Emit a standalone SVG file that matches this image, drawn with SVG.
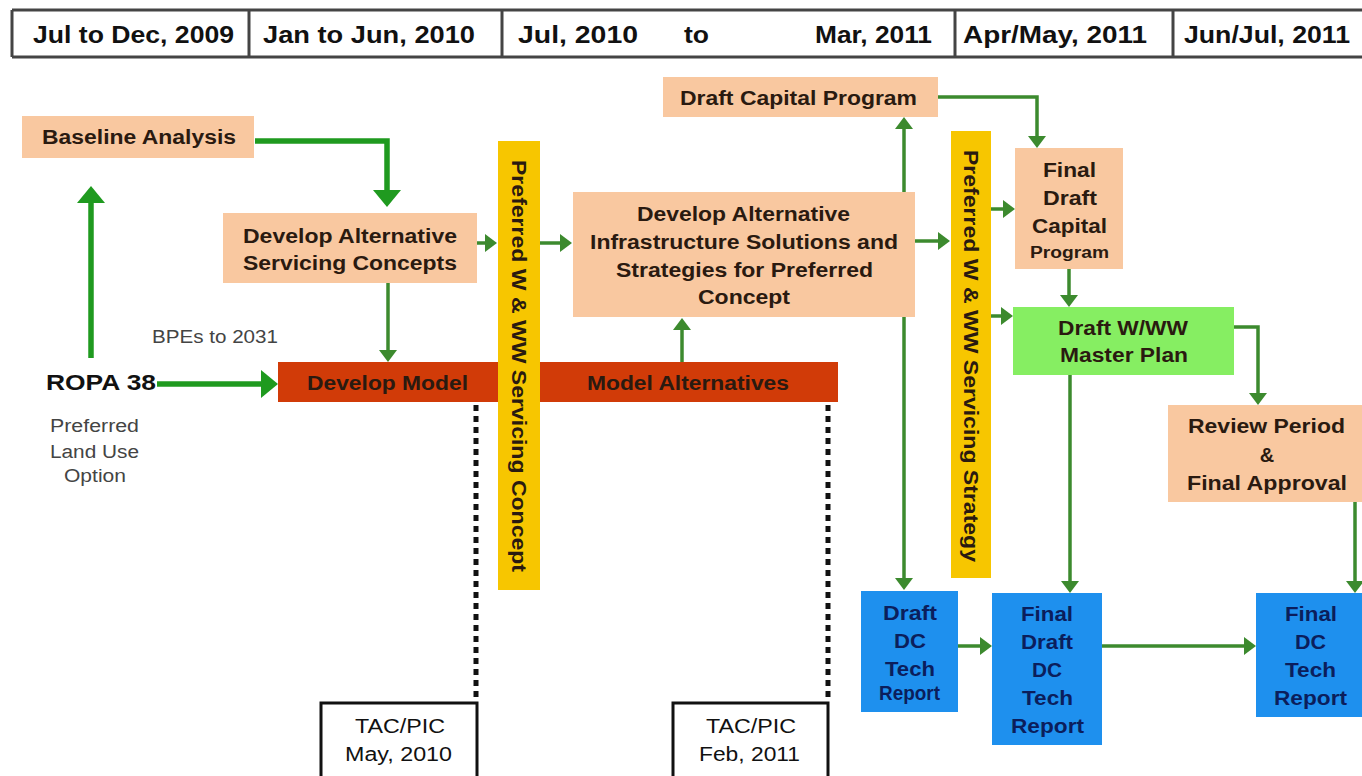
<svg xmlns="http://www.w3.org/2000/svg" width="1362" height="776" viewBox="0 0 1362 776">
<style>
text{font-family:"Liberation Sans",Arial,sans-serif;}
.hd{font-size:24px;font-weight:bold;fill:#111;}
.nt{font-size:20px;font-weight:bold;fill:#2a1a10;}
.sm{font-size:16px;font-weight:bold;}
.bt{font-size:20px;font-weight:bold;fill:#0b1e5c;}
.gt{font-size:18px;fill:#444;}
.peach{fill:#f9c8a0;}
.yel{fill:#f7c600;}
.red{fill:#d13b08;}
.blue{fill:#1e90ee;}
.lg{fill:#86ee62;}
.tac{fill:#fff;stroke:#111;stroke-width:3;}
.thick{fill:none;stroke:#1f9a1f;stroke-width:5.5;}
.thin{fill:none;stroke:#3c8a2e;stroke-width:3.5;}
.dot{fill:none;stroke:#111;stroke-width:5;stroke-dasharray:6 5;}
</style>
<defs>
<marker id="aT" markerUnits="userSpaceOnUse" markerWidth="18" markerHeight="28" refX="3" refY="14" orient="auto"><path d="M0,0 L17,14 L0,28 z" fill="#1f9a1f"/></marker>
<marker id="a" markerUnits="userSpaceOnUse" markerWidth="13" markerHeight="18" refX="2" refY="9" orient="auto"><path d="M0,0 L12,9 L0,18 z" fill="#3c8a2e"/></marker>
</defs>
<rect width="1362" height="776" fill="#fff"/>

<g id="header">
<path d="M12,10 H1362 M12,57 H1362 M12,10 V57 M249,10 V57 M502,10 V57 M955,10 V57 M1173,10 V57" fill="none" stroke="#444" stroke-width="3"/>
<text class="hd" x="33" y="43" textLength="201" lengthAdjust="spacingAndGlyphs">Jul to Dec, 2009</text>
<text class="hd" x="263" y="43" textLength="212" lengthAdjust="spacingAndGlyphs">Jan to Jun, 2010</text>
<text class="hd" x="518" y="43" textLength="120" lengthAdjust="spacingAndGlyphs">Jul, 2010</text>
<text class="hd" x="684" y="43" textLength="25" lengthAdjust="spacingAndGlyphs">to</text>
<text class="hd" x="815" y="43" textLength="117" lengthAdjust="spacingAndGlyphs">Mar, 2011</text>
<text class="hd" x="963" y="43" textLength="184" lengthAdjust="spacingAndGlyphs">Apr/May, 2011</text>
<text class="hd" x="1184" y="43" textLength="166" lengthAdjust="spacingAndGlyphs">Jun/Jul, 2011</text>
</g>

<g id="baseline">
<rect class="peach" x="22" y="116" width="232" height="42"/>
<text class="nt" x="42" y="144" textLength="194" lengthAdjust="spacingAndGlyphs">Baseline Analysis</text>
</g>

<g id="ropa">
<text x="46" y="390" font-size="22" font-weight="bold" fill="#111" textLength="110" lengthAdjust="spacingAndGlyphs">ROPA 38</text>
<text class="gt" x="50" y="432" textLength="89" lengthAdjust="spacingAndGlyphs">Preferred</text>
<text class="gt" x="50" y="458" textLength="89" lengthAdjust="spacingAndGlyphs">Land Use</text>
<text class="gt" x="64" y="482" textLength="62" lengthAdjust="spacingAndGlyphs">Option</text>
</g>

<g id="bpes">
<text class="gt" x="152" y="343" fill="#333" textLength="126" lengthAdjust="spacingAndGlyphs">BPEs to 2031</text>
</g>

<g id="dev-alt-servicing">
<rect class="peach" x="223" y="213" width="254" height="70"/>
<text class="nt" x="243" y="243" textLength="214" lengthAdjust="spacingAndGlyphs">Develop Alternative</text>
<text class="nt" x="243" y="270" textLength="214" lengthAdjust="spacingAndGlyphs">Servicing Concepts</text>
</g>

<g id="develop-model">
<rect class="red" x="278" y="362" width="230" height="40"/>
<text class="nt" x="307" y="390" fill="#3b1a08" textLength="161" lengthAdjust="spacingAndGlyphs">Develop Model</text>
</g>

<g id="model-alternatives">
<rect class="red" x="530" y="362" width="308" height="40"/>
<text class="nt" x="587" y="390" fill="#3b1a08" textLength="202" lengthAdjust="spacingAndGlyphs">Model Alternatives</text>
</g>

<g id="servicing-concept">
<rect class="yel" x="498" y="141" width="42" height="449"/>
<text class="nt" transform="translate(519,160) rotate(90)" x="0" y="7" textLength="412" lengthAdjust="spacingAndGlyphs">Preferred W &amp; WW Servicing Concept</text>
</g>

<g id="infra">
<rect class="peach" x="573" y="192" width="342" height="125"/>
<text class="nt" x="637" y="221" textLength="213" lengthAdjust="spacingAndGlyphs">Develop Alternative</text>
<text class="nt" x="590" y="249" textLength="308" lengthAdjust="spacingAndGlyphs">Infrastructure Solutions and</text>
<text class="nt" x="616" y="277" textLength="257" lengthAdjust="spacingAndGlyphs">Strategies for Preferred</text>
<text class="nt" x="698" y="304" textLength="92" lengthAdjust="spacingAndGlyphs">Concept</text>
</g>

<g id="draft-capital">
<rect class="peach" x="663" y="77" width="275" height="40"/>
<text class="nt" x="680" y="105" textLength="237" lengthAdjust="spacingAndGlyphs">Draft Capital Program</text>
</g>

<g id="servicing-strategy">
<rect class="yel" x="951" y="131" width="40" height="447"/>
<text class="nt" transform="translate(971,150) rotate(90)" x="0" y="7" textLength="412" lengthAdjust="spacingAndGlyphs">Preferred W &amp; WW Servicing Strategy</text>
</g>

<g id="final-draft-capital">
<rect class="peach" x="1015" y="148" width="108" height="121"/>
<text class="nt" x="1043" y="177" textLength="53" lengthAdjust="spacingAndGlyphs">Final</text>
<text class="nt" x="1043" y="205" textLength="54" lengthAdjust="spacingAndGlyphs">Draft</text>
<text class="nt" x="1032" y="233" textLength="75" lengthAdjust="spacingAndGlyphs">Capital</text>
<text class="nt sm" x="1030" y="258" textLength="79" lengthAdjust="spacingAndGlyphs">Program</text>
</g>

<g id="master-plan">
<rect class="lg" x="1013" y="307" width="221" height="68"/>
<text class="nt" x="1058" y="335" fill="#17301a" textLength="130" lengthAdjust="spacingAndGlyphs">Draft W/WW</text>
<text class="nt" x="1060" y="362" fill="#17301a" textLength="128" lengthAdjust="spacingAndGlyphs">Master Plan</text>
</g>

<g id="review">
<rect class="peach" x="1168" y="405" width="200" height="97"/>
<text class="nt" x="1188" y="433" textLength="157" lengthAdjust="spacingAndGlyphs">Review Period</text>
<text class="nt" x="1267" y="462" text-anchor="middle">&amp;</text>
<text class="nt" x="1187" y="490" textLength="160" lengthAdjust="spacingAndGlyphs">Final Approval</text>
</g>

<g id="draft-dc">
<rect class="blue" x="861" y="591" width="97" height="121"/>
<text class="bt" x="883" y="620" textLength="54" lengthAdjust="spacingAndGlyphs">Draft</text>
<text class="bt" x="894" y="648" textLength="32" lengthAdjust="spacingAndGlyphs">DC</text>
<text class="bt" x="885" y="676" textLength="50" lengthAdjust="spacingAndGlyphs">Tech</text>
<text class="bt sm" x="879" y="700" textLength="61" lengthAdjust="spacingAndGlyphs">Report</text>
</g>

<g id="final-draft-dc">
<rect class="blue" x="992" y="593" width="110" height="152"/>
<text class="bt" x="1021" y="621" textLength="52" lengthAdjust="spacingAndGlyphs">Final</text>
<text class="bt" x="1021" y="649" textLength="52" lengthAdjust="spacingAndGlyphs">Draft</text>
<text class="bt" x="1032" y="677" textLength="30" lengthAdjust="spacingAndGlyphs">DC</text>
<text class="bt" x="1022" y="705" textLength="51" lengthAdjust="spacingAndGlyphs">Tech</text>
<text class="bt" x="1011" y="733" textLength="73" lengthAdjust="spacingAndGlyphs">Report</text>
</g>

<g id="final-dc">
<rect class="blue" x="1256" y="593" width="110" height="124"/>
<text class="bt" x="1285" y="621" textLength="52" lengthAdjust="spacingAndGlyphs">Final</text>
<text class="bt" x="1295" y="649" textLength="31" lengthAdjust="spacingAndGlyphs">DC</text>
<text class="bt" x="1285" y="677" textLength="51" lengthAdjust="spacingAndGlyphs">Tech</text>
<text class="bt" x="1274" y="705" textLength="73" lengthAdjust="spacingAndGlyphs">Report</text>
</g>

<g id="tac-may">
<rect class="tac" x="321" y="703" width="156" height="85"/>
<text x="355" y="733" font-size="20" fill="#111" textLength="90" lengthAdjust="spacingAndGlyphs">TAC/PIC</text>
<text x="345" y="761" font-size="20" fill="#111" textLength="107" lengthAdjust="spacingAndGlyphs">May, 2010</text>
</g>

<g id="tac-feb">
<rect class="tac" x="673" y="703" width="155" height="85"/>
<text x="706" y="733" font-size="20" fill="#111" textLength="90" lengthAdjust="spacingAndGlyphs">TAC/PIC</text>
<text x="699" y="761" font-size="20" fill="#111" textLength="101" lengthAdjust="spacingAndGlyphs">Feb, 2011</text>
</g>

<g id="connectors">
<path class="thick" d="M255,141 H387 V193" marker-end="url(#aT)"/>
<path class="thick" d="M91,358 V200" marker-end="url(#aT)"/>
<path class="thick" d="M157,384 H264" marker-end="url(#aT)"/>
<path class="thin" d="M477,243 H487" marker-end="url(#a)"/>
<path class="thin" d="M388,283 V352" marker-end="url(#a)"/>
<path class="thin" d="M540,243 H562" marker-end="url(#a)"/>
<path class="thin" d="M682,362 V328" marker-end="url(#a)"/>
<path class="thin" d="M904,192 V127" marker-end="url(#a)"/>
<path class="thin" d="M904,317 V580" marker-end="url(#a)"/>
<path class="thin" d="M915,241 H940" marker-end="url(#a)"/>
<path class="thin" d="M938,97 H1037 V138" marker-end="url(#a)"/>
<path class="thin" d="M991,209 H1005" marker-end="url(#a)"/>
<path class="thin" d="M991,316 H1003" marker-end="url(#a)"/>
<path class="thin" d="M1069,269 V297" marker-end="url(#a)"/>
<path class="thin" d="M1234,327 H1258 V395" marker-end="url(#a)"/>
<path class="thin" d="M1070,375 V583" marker-end="url(#a)"/>
<path class="thin" d="M1355,502 V583" marker-end="url(#a)"/>
<path class="thin" d="M958,646 H982" marker-end="url(#a)"/>
<path class="thin" d="M1102,646 H1246" marker-end="url(#a)"/>
<path class="dot" d="M476,405 V700"/>
<path class="dot" d="M828,405 V700"/>
</g>
</svg>
